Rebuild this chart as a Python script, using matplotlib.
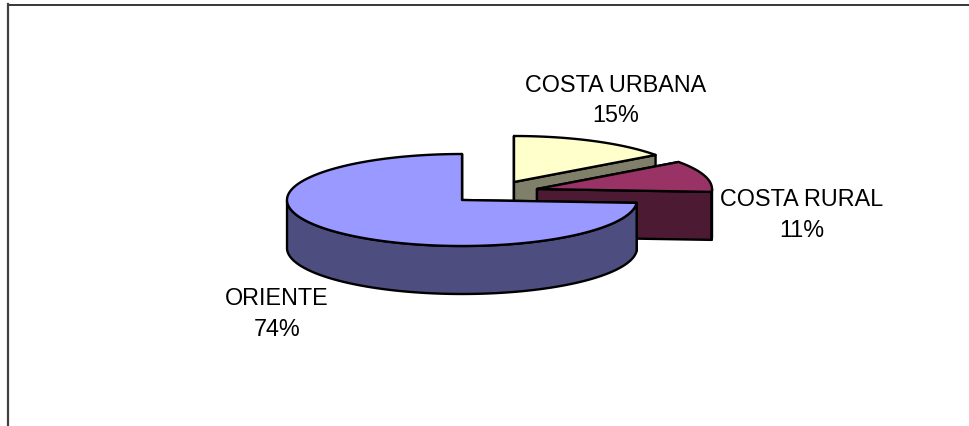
import numpy as np
import matplotlib
matplotlib.use('Agg')
import matplotlib.pyplot as plt
from matplotlib.patches import Polygon

plt.rcParams['font.family'] = ['Liberation Sans', 'DejaVu Sans']

# slices in clockwise order, starting at 12 o'clock
categories = ['COSTA URBANA', 'COSTA RURAL', 'ORIENTE']
percent = [15, 11, 74]

top_colors = ['#FFFFCC', '#993366', '#9999FF']
side_colors = ['#80806A', '#4D1A33', '#4D4D80']
# where each exploded slice has its point, in pixels
apex_x = [514, 537, 462]
apex_y = [183, 190, 201]
label_x = [615.5, 802, 277]
label_y = [100.5, 215, 314]

rx = 175
ry = 46
depth = 48
lw = 1.7


def ell(cx, cy, deg):
    t = np.radians(deg)
    return np.column_stack([cx + rx * np.cos(t), cy - ry * np.sin(t)])


def shape(ax, pts, color):
    ax.add_patch(Polygon(pts, closed=True, facecolor=color, edgecolor='black',
                         linewidth=lw, joinstyle='round'))


fig = plt.figure(figsize=(9.7, 4.27), dpi=100)
ax = fig.add_axes([0, 0, 1, 1])
ax.set_xlim(0, 970)
ax.set_ylim(427, 0)
ax.axis('off')

# chart frame, only top and left show
ax.plot([8, 970], [5.5, 5.5], color='black', lw=1.1)
ax.plot([8, 8], [5, 427], color='#404040', lw=1.6)

start = 90.0
for i in range(len(categories)):
    end = start - percent[i] * 3.6
    cx, cy = apex_x[i], apex_y[i]
    down = np.array([0, depth])
    apex = np.array([[cx, cy]])

    # cut faces first, the top and the rim cover whatever is hidden
    for a in (start, end):
        p = ell(cx, cy, np.array([a]))
        shape(ax, np.vstack([apex, p, p + down, apex + down]), side_colors[i])

    # rim, only the part facing the viewer
    a_rim = np.linspace(start, end, 200)
    a_rim = a_rim[np.sin(np.radians(a_rim)) <= 0]
    if len(a_rim) > 1:
        rim = ell(cx, cy, a_rim)
        shape(ax, np.vstack([rim, (rim + down)[::-1]]), side_colors[i])

    arc = ell(cx, cy, np.linspace(start, end, 200))
    shape(ax, np.vstack([apex, arc]), top_colors[i])

    ax.text(label_x[i], label_y[i], f'{categories[i]}\n{percent[i]}%',
            ha='center', va='center', fontsize=16.8, linespacing=1.43, color='black')
    start = end

fig.savefig('out.png', dpi=100)
